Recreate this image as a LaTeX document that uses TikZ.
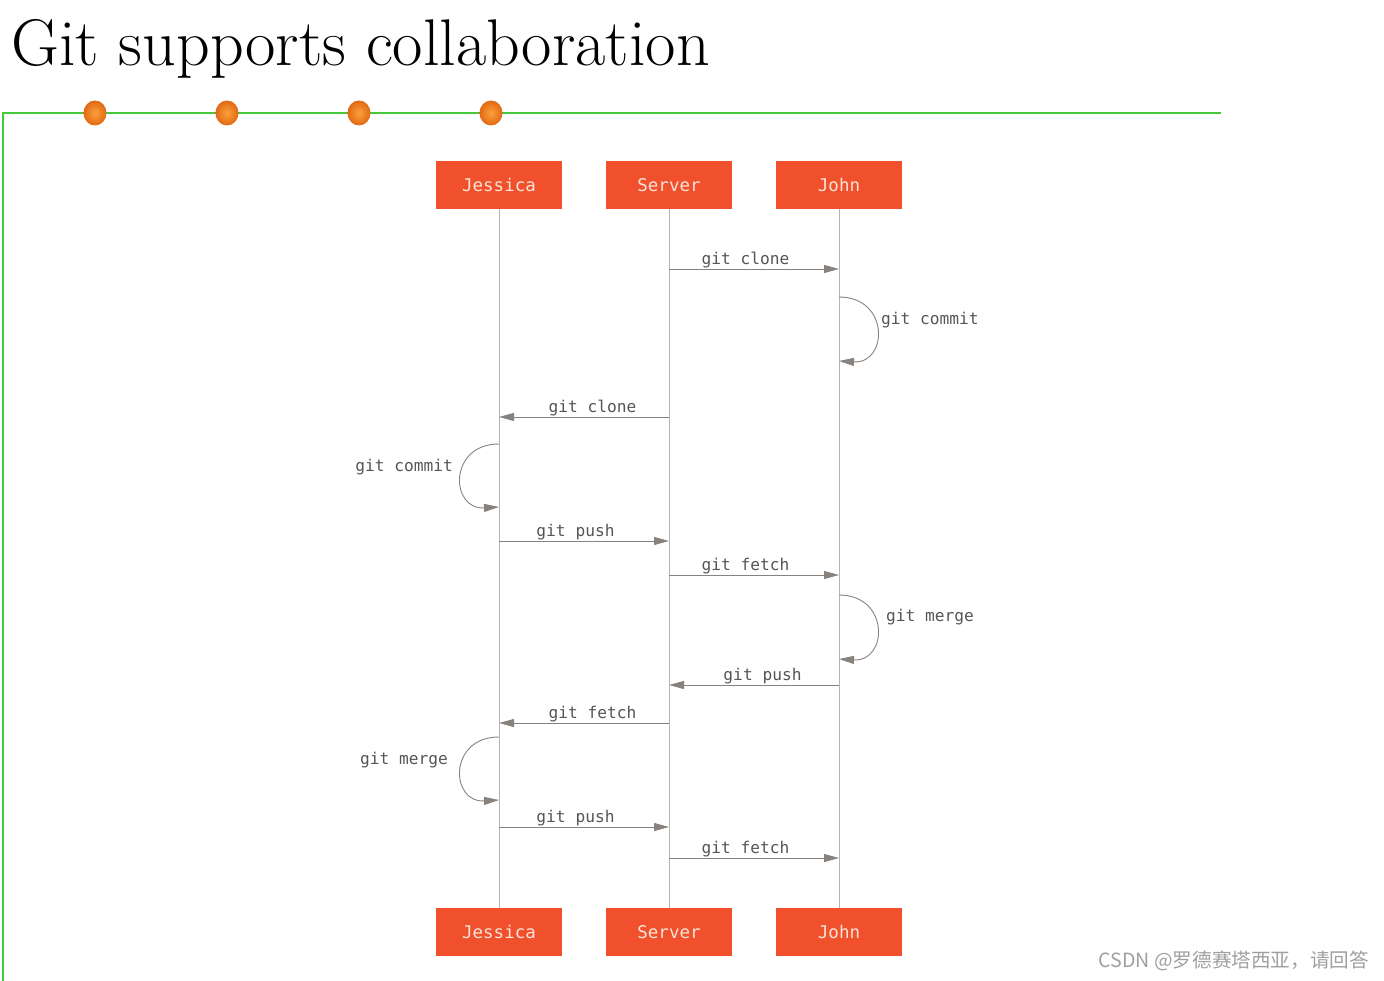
\documentclass[tikz,border=0pt]{standalone}
\usepackage{fontspec}
\setmonofont{DejaVu Sans Mono}
\newfontfamily\cjkfont{Noto Sans CJK SC}
\usetikzlibrary{arrows.meta,shadings}
\definecolor{gitred}{RGB}{241,80,45}
\definecolor{boxtext}{RGB}{250,228,215}
\definecolor{lifegray}{RGB}{180,180,180}
\definecolor{msggray}{RGB}{135,130,125}
\definecolor{labelgray}{RGB}{85,85,85}
\definecolor{framegreen}{RGB}{70,200,60}
\definecolor{dotlight}{RGB}{252,160,60}
\definecolor{dotdark}{RGB}{225,105,20}
\tikzset{
  actor/.style={fill=gitred, text=boxtext, minimum width=126pt, minimum height=48pt,
    inner sep=0pt, font=\fontsize{17.5}{20}\selectfont\ttfamily},
  msg/.style={draw=msggray, line width=0.9pt, -{Triangle[length=15pt,width=8pt]}},
  msglabel/.style={text=labelgray, font=\fontsize{16.2}{18}\selectfont\ttfamily, inner sep=1pt},
  lifeline/.style={draw=lifegray, line width=1pt}
}
\begin{document}
\begin{tikzpicture}[x=1pt, y=-1pt]
  \useasboundingbox (0,0) rectangle (1384,981);
  % title and frame
  \node[anchor=base west, inner sep=0pt, font=\fontsize{66}{70}\selectfont] (title) at (11,66) {Git supports collaboration};
  \draw[framegreen, line width=1.6pt] (1221,113) -- (3,113) -- (3,981);
  \foreach \x in {95,227,359,491}
    \shade[inner color=dotlight, outer color=dotdark] (\x,113) ellipse (11.5pt and 12.5pt);
  % actors
  \node[actor] (jessicaTop) at (499,185) {Jessica};
  \node[actor] (serverTop) at (669,185) {Server};
  \node[actor] (johnTop) at (839,185) {John};
  \node[actor] (jessicaBot) at (499,932) {Jessica};
  \node[actor] (serverBot) at (669,932) {Server};
  \node[actor] (johnBot) at (839,932) {John};
  \draw[lifeline] (jessicaTop) -- (jessicaBot);
  \draw[lifeline] (serverTop) -- (serverBot);
  \draw[lifeline] (johnTop) -- (johnBot);
  % messages
  \draw[msg] (serverTop |- 0,269) -- node[msglabel, pos=0.45, above] (m1) {git clone} (johnTop |- 0,269);
  \draw[msg] (johnTop |- 0,297) .. controls (890,297) and (888,364) .. (johnTop |- 0,361);
  \node[msglabel, anchor=west] (m2) at (880,320) {git commit};
  \draw[msg] (serverTop |- 0,417) -- node[msglabel, pos=0.45, above] (m3) {git clone} (jessicaTop |- 0,417);
  \draw[msg] (jessicaTop |- 0,444) .. controls (448,444) and (450,510) .. (jessicaTop |- 0,507);
  \node[msglabel, anchor=east] (m4) at (454,467) {git commit};
  \draw[msg] (jessicaTop |- 0,541) -- node[msglabel, pos=0.45, above] (m5) {git push} (serverTop |- 0,541);
  \draw[msg] (serverTop |- 0,575) -- node[msglabel, pos=0.45, above] (m6) {git fetch} (johnTop |- 0,575);
  \draw[msg] (johnTop |- 0,595) .. controls (890,595) and (888,662) .. (johnTop |- 0,659);
  \node[msglabel, anchor=west] (m7) at (885,617) {git merge};
  \draw[msg] (johnTop |- 0,685) -- node[msglabel, pos=0.45, above] (m8) {git push} (serverTop |- 0,685);
  \draw[msg] (serverTop |- 0,723) -- node[msglabel, pos=0.45, above] (m9) {git fetch} (jessicaTop |- 0,723);
  \draw[msg] (jessicaTop |- 0,737) .. controls (448,737) and (450,803) .. (jessicaTop |- 0,800);
  \node[msglabel, anchor=east] (m10) at (449,760) {git merge};
  \draw[msg] (jessicaTop |- 0,827) -- node[msglabel, pos=0.45, above] (m11) {git push} (serverTop |- 0,827);
  \draw[msg] (serverTop |- 0,858) -- node[msglabel, pos=0.45, above] (m12) {git fetch} (johnTop |- 0,858);
  % watermark
  \node[anchor=east, text=gray!75, font=\fontsize{19.6}{22}\selectfont\cjkfont, inner sep=0pt] (mark) at (1369,961) {CSDN @罗德赛塔西亚，请回答};
\end{tikzpicture}
\end{document}
